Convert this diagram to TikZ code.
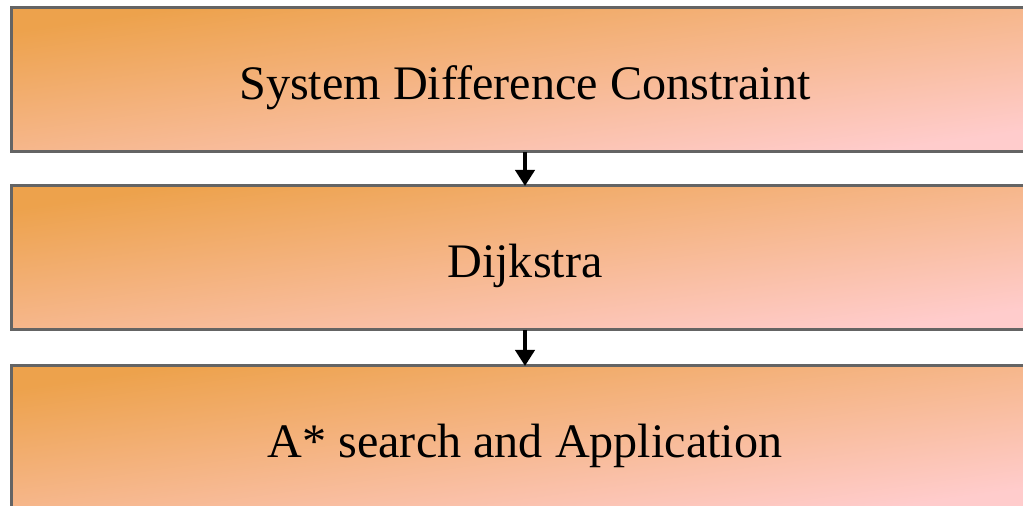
\documentclass[tikz,border=0pt]{standalone}
\usepackage{fontspec}
\setmainfont{Liberation Serif}
\usetikzlibrary{arrows.meta}
\definecolor{stageorange}{RGB}{237,162,76}
\definecolor{stagepink}{RGB}{255,204,204}
\definecolor{stageline}{RGB}{100,100,100}
\tikzset{
  stageshade/.style={top color=stageorange, bottom color=stagepink, shading angle=45},
  stagebox/.style={draw=stageline, line width=0.06cm, minimum width=20.52cm, minimum height=2.88cm,
    outer sep=0pt, text height=1.0cm, text depth=0.2cm, font=\fontsize{27.4}{32}\selectfont},
  stagearrow/.style={line width=0.08cm, -{Triangle[length=0.32cm, width=0.38cm]}}
}
% gradient stretched over the whole box, corner to corner
\def\stagefill(#1,#2){
  \begin{scope}[transform canvas={xscale=7.125}]
    \clip ({#1/7.125-1.44}, {#2-1.44}) rectangle +(2.88, 2.88);
    \fill[stageshade] ({#1/7.125-1.725}, {#2-1.725}) rectangle +(3.45, 3.45);
  \end{scope}}
\begin{document}
\begin{tikzpicture}
			%%%%% START %%%%%
			\useasboundingbox (0, 0) rectangle (20.46, 10.1);
			\clip (0, 0) rectangle (20.46, 10.1);
			
			\stagefill(10.5, 8.5)
			\stagefill(10.5, 4.94)
			\stagefill(10.5, 1.34)
			
			\node[stagebox] (sdc) at (10.5, 8.5) {System Difference Constraint};
			\node[stagebox] (dijkstra) at (10.5, 4.94) {Dijkstra};
			\node[stagebox] (astar) at (10.5, 1.34) {A* search and Application};
			
			\draw[stagearrow] (sdc) -- (dijkstra);
			\draw[stagearrow] (dijkstra) -- (astar);
			
			%%%%% END %%%%%
\end{tikzpicture}
\end{document}
